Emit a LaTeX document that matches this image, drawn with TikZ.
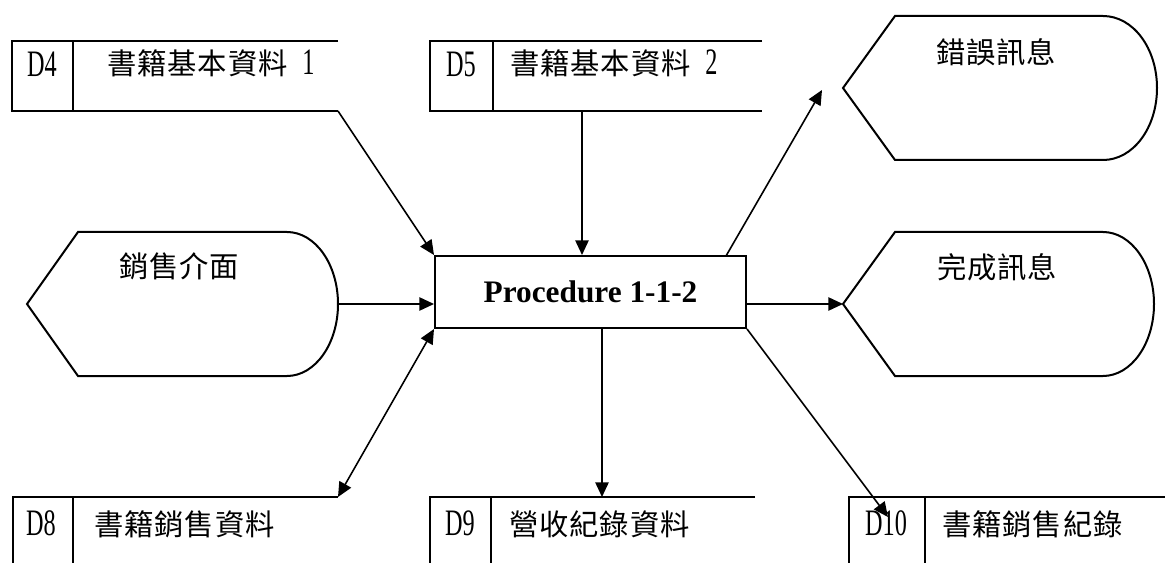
\documentclass[tikz,border=0pt]{standalone}
\usepackage{fontspec}
\setmainfont{Liberation Serif}
\newfontfamily\cjk[LetterSpace=3]{Noto Sans CJK TC}
\newfontfamily\narrowfont[FakeStretch=0.65]{Liberation Serif}
\usetikzlibrary{arrows.meta,calc}
\begin{document}
\begin{tikzpicture}[x=0.75pt,y=-0.75pt,
  box/.style={line width=1.5pt},
  flow/.style={line width=1.2pt,-{Triangle[length=11pt,width=10pt]}},
  flowboth/.style={line width=1.2pt,{Triangle[length=11pt,width=10pt]}-{Triangle[length=11pt,width=10pt]}},
  dlabel/.style={font=\narrowfont\fontsize{28}{32}\selectfont, inner sep=0, anchor=base},
  clabel/.style={font=\cjk\fontsize{22}{26}\selectfont, inner sep=0, anchor=base west},
  procbox/.style={draw, line width=1.5pt, minimum width=233.25pt, minimum height=54pt, inner sep=0, font=\bfseries\fontsize{23.5}{28}\selectfont}
]
\useasboundingbox (0,0) rectangle (1165,563);

% data stores, top row
\draw[box] (338,41) -- (12,41) -- (12,111) -- (338,111);
\draw[box] (73,41) -- (73,111);
\node[dlabel] (d4id) at (42,77) {D4};
\node[clabel] (d4t) at (107,75) {書籍基本資料{\narrowfont\fontsize{28}{32}\selectfont\hspace{11pt}1}};

\draw[box] (762,41) -- (430,41) -- (430,111) -- (762,111);
\draw[box] (493,41) -- (493,111);
\node[dlabel] (d5id) at (461,77) {D5};
\node[clabel] (d5t) at (510,75) {書籍基本資料{\narrowfont\fontsize{28}{32}\selectfont\hspace{11pt}2}};

% data stores, bottom row
\draw[box] (338,497) -- (13,497) -- (13,566);
\draw[box] (73,497) -- (73,566);
\node[dlabel] (d8id) at (41,535) {D8};
\node[clabel] (d8t) at (94,535) {書籍銷售資料};

\draw[box] (755,497) -- (430,497) -- (430,566);
\draw[box] (491,497) -- (491,566);
\node[dlabel] (d9id) at (460,535) {D9};
\node[clabel] (d9t) at (509,535) {營收紀錄資料};

\draw[box] (1168,497) -- (849,497) -- (849,566);
\draw[box] (925,497) -- (925,566);
\node[dlabel] (d10id) at (886,535) {D10};
\node[clabel] (d10t) at (942,535) {書籍銷售紀錄};

% display shapes
\draw[box] (27,304) -- (78,232) -- (287,232) .. controls (315,232) and (338,264) .. (338,304)
  .. controls (338,344) and (315,376) .. (287,376) -- (78,376) -- cycle;
\node[clabel] (salest) at (119,278) {銷售介面};

\draw[box] (843,88) -- (895,16) -- (1103,16) .. controls (1133,16) and (1157,48) .. (1157,88)
  .. controls (1157,128) and (1133,160) .. (1103,160) -- (895,160) -- cycle;
\node[clabel] (errt) at (936,64) {錯誤訊息};

\draw[box] (843,304) -- (895,232) -- (1103,232) .. controls (1131,232) and (1154,264) .. (1154,304)
  .. controls (1154,344) and (1131,376) .. (1103,376) -- (895,376) -- cycle;
\node[clabel] (donet) at (937,279) {完成訊息};

% process
\node[procbox] (proc) at (590.5,292) {Procedure 1-1-2};

% connection points
\coordinate (d4end) at (338,111);
\coordinate (d5bot) at (582,111);
\coordinate (salesE) at (338,304);
\coordinate (errS) at (726,256);
\coordinate (errA) at (822,90);
\coordinate (doneW) at (843,304);
\coordinate (d8end) at (338,497);
\coordinate (d9top) at (602,497);
\coordinate (d10a) at (888,517);

% connectors
\draw[flow] (d4end) -- (proc.north west);
\draw[flow] (d5bot) -- (d5bot |- proc.north);
\draw[flow] (salesE) -- (salesE -| proc.west);
\draw[flow] (errS) -- (errA);
\draw[flow] (doneW -| proc.east) -- (doneW);
\draw[flowboth] (proc.south west) -- (d8end);
\draw[flow] (d9top |- proc.south) -- (d9top);
\draw[flow] (proc.south east) -- (d10a);
\end{tikzpicture}
\end{document}
